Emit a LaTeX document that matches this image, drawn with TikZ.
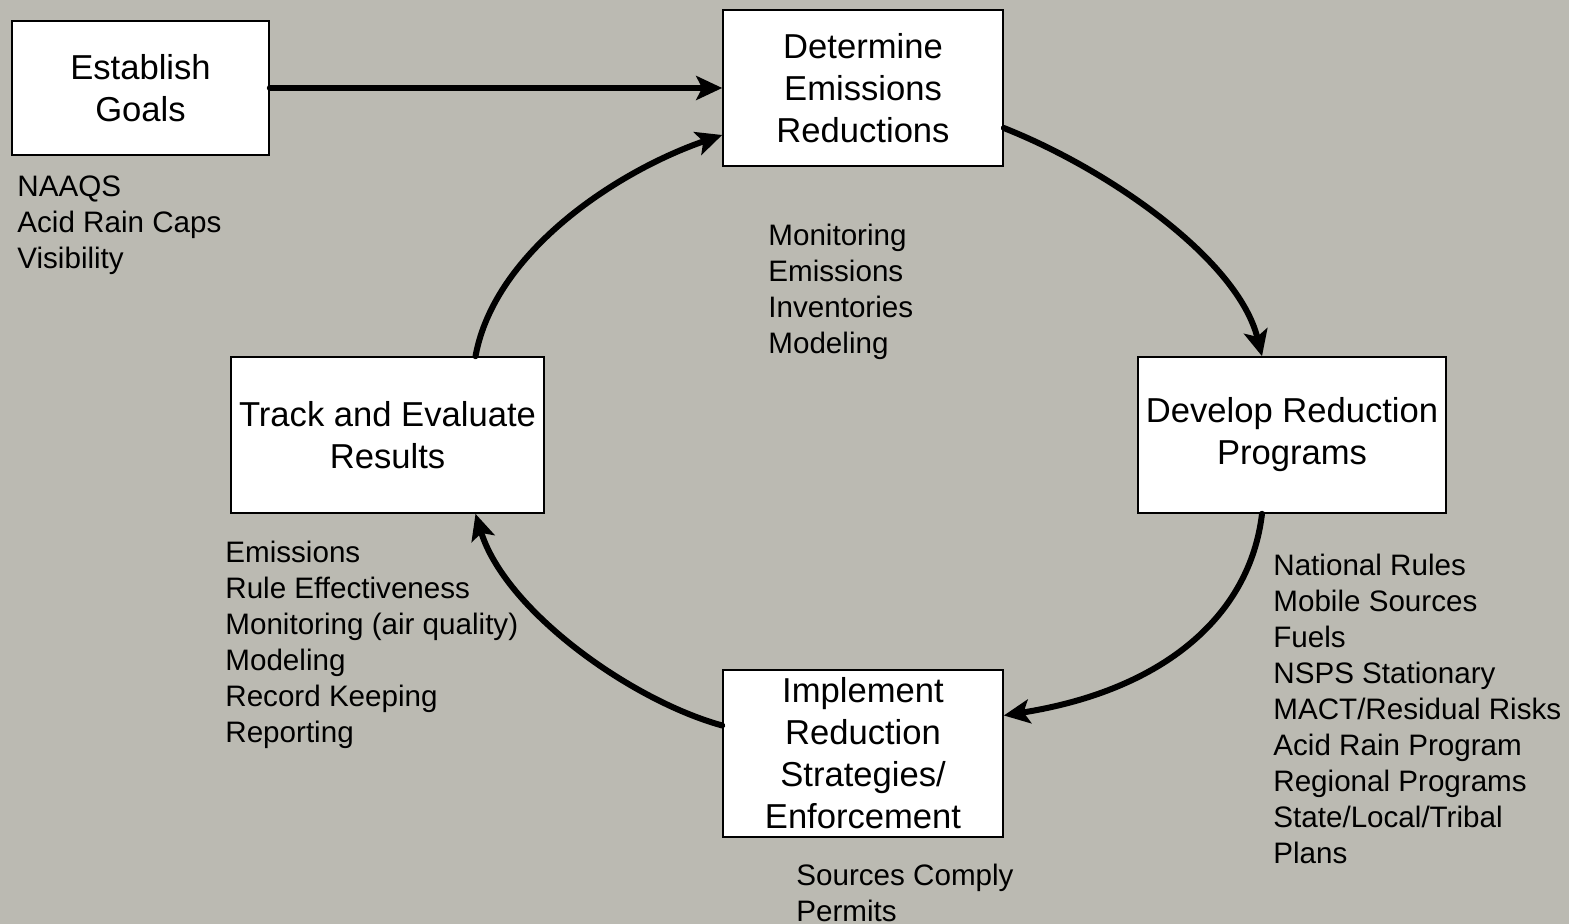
\documentclass[tikz,border=0pt]{standalone}
\usepackage{fontspec}
\setmainfont{Liberation Sans}
\usetikzlibrary{arrows.meta}
\definecolor{bg}{RGB}{187,186,178}
\begin{document}
\begin{tikzpicture}[x=0.5pt,y=-0.5pt,
  box/.style={draw=black, line width=0.8pt, fill=white, align=center, inner sep=0pt, font=\fontsize{17.3}{21}\selectfont},
  lbl/.style={anchor=north west, align=left, inner sep=0pt, font=\fontsize{14.8}{18}\selectfont},
  flow/.style={line width=3pt, line cap=round, -{Stealth[length=13pt,width=12pt,inset=3pt]}}]
\fill[bg] (0,0) rectangle (1569,924);
\useasboundingbox (0,0) rectangle (1569,924);

\node[box, minimum width=128.5pt, minimum height=67pt] (goals) at (140.5,88) {Establish\\ Goals};
\node[box, minimum width=140pt, minimum height=78pt] (det) at (863,88) {Determine\\Emissions\\Reductions};
\node[box, minimum width=154pt, minimum height=78pt] (dev) at (1292,435) {Develop Reduction\\Programs};
\node[box, minimum width=156.5pt, minimum height=78pt] (track) at (387.5,435) {Track and Evaluate\\Results};
\node[box, minimum width=140pt, minimum height=83.5pt] (impl) at (863,753.5) {Implement\\Reduction\\Strategies/\\Enforcement};

\node[lbl] (l1) at (17,175) {NAAQS\\Acid Rain Caps\\Visibility};
\node[lbl] (l2) at (768,224) {Monitoring\\Emissions\\Inventories\\Modeling};
\node[lbl] (l3) at (225,541) {Emissions\\Rule Effectiveness\\Monitoring (air quality)\\Modeling\\Record Keeping\\Reporting};
\node[lbl] (l4) at (1273,554) {National Rules\\Mobile Sources\\Fuels\\NSPS Stationary\\MACT/Residual Risks\\Acid Rain Program\\Regional Programs\\State/Local/Tribal\\Plans};
\node[lbl] (l5) at (796,864) {Sources Comply\\Permits};

\draw[flow] (goals.east) -- (det.west);
\draw[flow] ([yshift=-20pt]det.east) .. controls (1110,170) and (1238,260) .. ([xshift=-15pt]dev.north);
\draw[flow] ([xshift=-15pt]dev.south) .. controls (1250,615) and (1165,690) .. ([yshift=19pt]impl.east);
\draw[flow] ([yshift=14pt]impl.west) .. controls (630,700) and (505,610) .. ([xshift=44pt]track.south);
\draw[flow] ([xshift=44pt]track.north) .. controls (495,250) and (620,170) .. ([yshift=-23.5pt]det.west);
\end{tikzpicture}
\end{document}
